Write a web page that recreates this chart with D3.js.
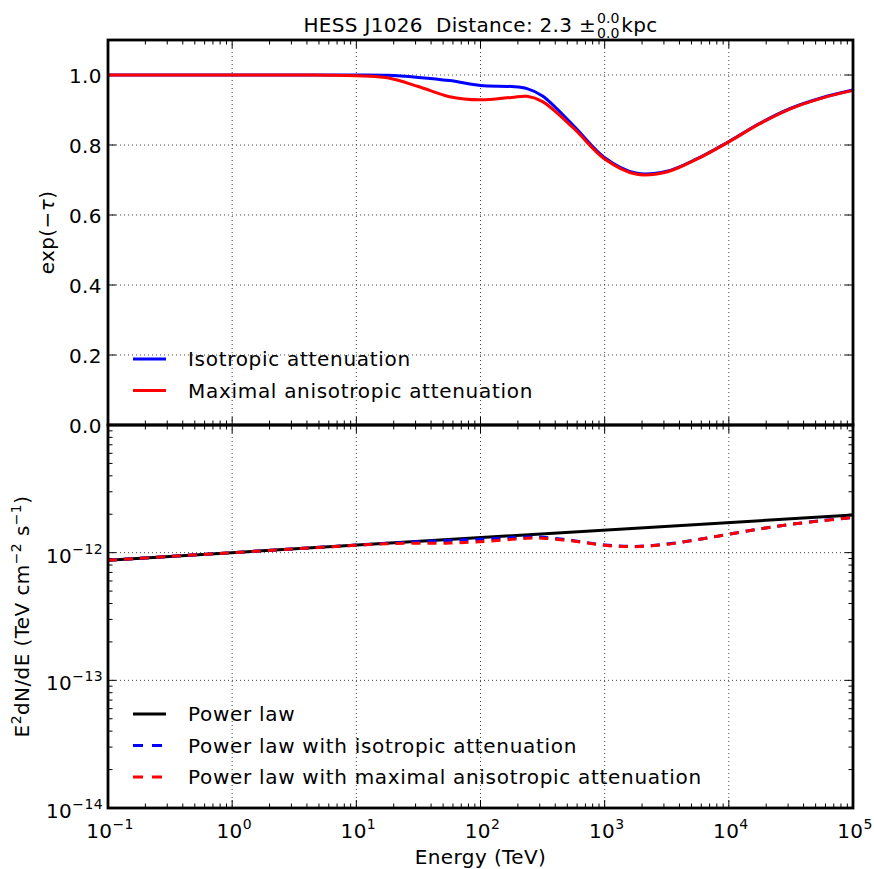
<!DOCTYPE html>
<html>
<head>
<meta charset="utf-8">
<script src="https://cdn.jsdelivr.net/npm/d3@7"></script>
<style>
body { margin: 0; background: #fff; }
text { font-family: "DejaVu Sans", sans-serif; fill: #000; }
</style>
</head>
<body>
<script>
var W = 874, H = 869;

// energy grid (TeV)
var energy = [0.1, 0.316, 1, 3.16, 5.62, 10, 17.8, 31.6, 56.2, 100, 178, 237, 316, 562,
              1000, 1778, 3162, 5623, 10000, 17783, 31623, 56234, 100000];

// exp(-tau)
var attIso   = [1, 1, 1, 1, 1, 1.0, 0.999, 0.993, 0.984, 0.970, 0.967, 0.961, 0.940, 0.855,
                0.764, 0.720, 0.725, 0.762, 0.810, 0.862, 0.905, 0.935, 0.957];
var attAniso = [1, 1, 1, 1, 0.9995, 0.998, 0.992, 0.967, 0.938, 0.929, 0.936, 0.939, 0.924, 0.848,
                0.760, 0.717, 0.723, 0.761, 0.809, 0.861, 0.904, 0.934, 0.956];

// E^2 dN/dE (TeV cm^-2 s^-1)
var plEnergy = [0.1, 100000];
var plFlux = [0.873e-12, 1.972e-12];
var fluxIso   = [0.873e-12, 0.934e-12, 1.0e-12, 1.070e-12, 1.107e-12, 1.146e-12, 1.184e-12, 1.217e-12,
                 1.248e-12, 1.273e-12, 1.313e-12, 1.327e-12, 1.320e-12, 1.242e-12, 1.148e-12, 1.120e-12,
                 1.167e-12, 1.268e-12, 1.395e-12, 1.535e-12, 1.668e-12, 1.782e-12, 1.887e-12];
var fluxAniso = [0.873e-12, 0.934e-12, 1.0e-12, 1.070e-12, 1.106e-12, 1.144e-12, 1.176e-12, 1.186e-12,
                 1.189e-12, 1.219e-12, 1.271e-12, 1.297e-12, 1.297e-12, 1.232e-12, 1.142e-12, 1.115e-12,
                 1.163e-12, 1.266e-12, 1.393e-12, 1.533e-12, 1.666e-12, 1.780e-12, 1.885e-12];

var xDecades = [-1, 0, 1, 2, 3, 4, 5];
var topTicks = [0, 0.2, 0.4, 0.6, 0.8, 1.0];
var botDecades = [-14, -13, -12, -11];

var left = 108, right = 853, top0 = 40, mid = 425, bottom = 808;

var svg = d3.select("body").append("svg").attr("width", W).attr("height", H);

var x = d3.scaleLog().domain([0.1, 1e5]).range([left, right]);
var yTop = d3.scaleLinear().domain([0, 1.1]).range([mid, top0]);
var yBot = d3.scaleLog().domain([1e-14, 1e-11]).range([bottom, mid]);

var xMajor = xDecades.map(function(k) { return Math.pow(10, k); });
var xMinor = [];
xDecades.slice(0, -1).forEach(function(k) {
    for (var m = 2; m < 10; m++) xMinor.push(m * Math.pow(10, k));
});
var yBotMajor = botDecades.map(function(k) { return Math.pow(10, k); });
var yBotMinor = [];
botDecades.slice(0, -1).forEach(function(k) {
    for (var m = 2; m < 10; m++) yBotMinor.push(m * Math.pow(10, k));
});

var MAJ = 8, MIN = 4.5;

// grid
function grid(yScale, yVals, y0, y1) {
    var g = svg.append("g").attr("stroke", "#444").attr("stroke-width", 1).attr("stroke-dasharray", "1,3");
    g.selectAll(".gx").data(xMajor).enter().append("line")
        .attr("x1", function(d) { return x(d); }).attr("x2", function(d) { return x(d); })
        .attr("y1", y0).attr("y2", y1);
    g.selectAll(".gy").data(yVals).enter().append("line")
        .attr("x1", left).attr("x2", right)
        .attr("y1", function(d) { return yScale(d); }).attr("y2", function(d) { return yScale(d); });
}
grid(yTop, topTicks, top0, mid);
grid(yBot, yBotMajor, mid, bottom);

// ticks
function ticks(yScale, yMaj, yMin, y0, y1) {
    var g = svg.append("g").attr("stroke", "#000").attr("stroke-width", 1);
    var xt = xMajor.map(function(d) { return {v: d, l: MAJ}; }).concat(xMinor.map(function(d) { return {v: d, l: MIN}; }));
    [y0, y1].forEach(function(yy, i) {
        var dir = i === 0 ? 1 : -1;
        g.selectAll(null).data(xt).enter().append("line")
            .attr("x1", function(d) { return x(d.v); }).attr("x2", function(d) { return x(d.v); })
            .attr("y1", yy).attr("y2", function(d) { return yy + dir * d.l; });
    });
    var yt = yMaj.map(function(d) { return {v: d, l: MAJ}; }).concat(yMin.map(function(d) { return {v: d, l: MIN}; }));
    [left, right].forEach(function(xx, i) {
        var dir = i === 0 ? 1 : -1;
        g.selectAll(null).data(yt).enter().append("line")
            .attr("y1", function(d) { return yScale(d.v); }).attr("y2", function(d) { return yScale(d.v); })
            .attr("x1", xx).attr("x2", function(d) { return xx + dir * d.l; });
    });
}
ticks(yTop, topTicks, [], top0, mid);
ticks(yBot, yBotMajor, yBotMinor, mid, bottom);

// curves
var smooth = d3.curveCatmullRom.alpha(0.5);
var lineTop = function(vals) {
    return d3.line().curve(smooth)
        .x(function(d, i) { return x(energy[i]); })
        .y(function(d) { return yTop(d); })(vals);
};
var lineBot = function(xs, vals) {
    return d3.line().curve(smooth)
        .x(function(d, i) { return x(xs[i]); })
        .y(function(d) { return yBot(d); })(vals);
};

svg.append("path").attr("d", lineTop(attIso)).attr("fill", "none").attr("stroke", "#0000ff").attr("stroke-width", 3);
svg.append("path").attr("d", lineTop(attAniso)).attr("fill", "none").attr("stroke", "#ff0000").attr("stroke-width", 3);

svg.append("path").attr("d", lineBot(plEnergy, plFlux)).attr("fill", "none").attr("stroke", "#000").attr("stroke-width", 3);
svg.append("path").attr("d", lineBot(energy, fluxIso)).attr("fill", "none").attr("stroke", "#0000ff")
    .attr("stroke-width", 3).attr("stroke-dasharray", "9,7");
svg.append("path").attr("d", lineBot(energy, fluxAniso)).attr("fill", "none").attr("stroke", "#ff0000")
    .attr("stroke-width", 3).attr("stroke-dasharray", "9,7");

// frames
[[top0, mid], [mid, bottom]].forEach(function(p) {
    svg.append("rect").attr("x", left).attr("y", p[0]).attr("width", right - left).attr("height", p[1] - p[0])
        .attr("fill", "none").attr("stroke", "#000").attr("stroke-width", 2.8);
});

// tick labels
function pow10Label(sel, k) {
    sel.append("tspan").text("10");
    sel.append("tspan").attr("dy", -9).attr("font-size", 14).text((k < 0 ? "\u2212" : "") + Math.abs(k));
}
svg.selectAll(".xl").data(xDecades).enter().append("text")
    .attr("x", function(k) { return x(Math.pow(10, k)) + 2; })
    .attr("y", 838).attr("font-size", 20).attr("letter-spacing", 0.4).attr("text-anchor", "middle")
    .each(function(k) { pow10Label(d3.select(this), k); });

svg.selectAll(".ytl").data(topTicks).enter().append("text")
    .attr("x", left - 6).attr("y", function(d) { return yTop(d) + 7.5; })
    .attr("font-size", 20).attr("letter-spacing", 0.4).attr("text-anchor", "end").text(d3.format(".1f"));

svg.selectAll(".ybl").data(botDecades.slice(0, -1)).enter().append("text")
    .attr("x", left - 5).attr("y", function(k) { return yBot(Math.pow(10, k)) + 10; })
    .attr("font-size", 20).attr("letter-spacing", 0.4).attr("text-anchor", "end")
    .each(function(k) { pow10Label(d3.select(this), k); });

// axis labels
svg.append("text").attr("x", (left + right) / 2).attr("y", 864).attr("font-size", 20)
    .attr("letter-spacing", 0.4).attr("text-anchor", "middle").text("Energy (TeV)");

var yl1 = svg.append("text").attr("transform", "translate(54," + ((top0 + mid) / 2) + ") rotate(-90)")
    .attr("font-size", 20).attr("letter-spacing", 0.4).attr("text-anchor", "middle");
yl1.append("tspan").text("exp(\u2212");
yl1.append("tspan").attr("font-style", "italic").text("\u03c4");
yl1.append("tspan").text(")");

var yl2 = svg.append("text").attr("transform", "translate(29," + ((mid + bottom) / 2) + ") rotate(-90)")
    .attr("font-size", 20).attr("letter-spacing", 0.4).attr("text-anchor", "middle");
yl2.append("tspan").text("E");
yl2.append("tspan").attr("dy", -8).attr("font-size", 14).text("2");
yl2.append("tspan").attr("dy", 8).text("dN/dE (TeV cm");
yl2.append("tspan").attr("dy", -8).attr("font-size", 14).text("\u22122");
yl2.append("tspan").attr("dy", 8).text(" s");
yl2.append("tspan").attr("dy", -8).attr("font-size", 14).text("\u22121");
yl2.append("tspan").attr("dy", 8).text(")");

// title
var tg = svg.append("g");
var t1 = tg.append("text").attr("y", 32).attr("font-size", 20).attr("letter-spacing", 0.3)
    .style("white-space", "pre").text("HESS J1026  Distance: 2.3 \u00b1");
var w1 = t1.node().getComputedTextLength();
var tsup = tg.append("text").attr("y", 23).attr("font-size", 14).text("0.0");
var tsub = tg.append("text").attr("y", 38).attr("font-size", 14).text("0.0");
var w2 = tsup.node().getComputedTextLength();
var t3 = tg.append("text").attr("y", 32).attr("font-size", 20).attr("letter-spacing", 0.3).text("kpc");
var w3 = t3.node().getComputedTextLength();
var x0 = (left + right) / 2 - (w1 + w2 + w3 + 3) / 2;
t1.attr("x", x0);
tsup.attr("x", x0 + w1 + 1);
tsub.attr("x", x0 + w1 + 1);
t3.attr("x", x0 + w1 + w2 + 3);

// legends
var legTop = [
    {label: "Isotropic attenuation", color: "#0000ff", dash: null},
    {label: "Maximal anisotropic attenuation", color: "#ff0000", dash: null}
];
var legBot = [
    {label: "Power law", color: "#000", dash: null},
    {label: "Power law with isotropic attenuation", color: "#0000ff", dash: "10,9"},
    {label: "Power law with maximal anisotropic attenuation", color: "#ff0000", dash: "10,9"}
];
function legend(items, y0) {
    var g = svg.selectAll(null).data(items).enter().append("g")
        .attr("transform", function(d, i) { return "translate(133," + (y0 + i * 31.5) + ")"; });
    g.append("line").attr("x1", 0).attr("x2", 33).attr("y1", 0).attr("y2", 0)
        .attr("stroke", function(d) { return d.color; }).attr("stroke-width", 3)
        .attr("stroke-dasharray", function(d) { return d.dash; });
    g.append("text").attr("x", 55).attr("y", 7).attr("font-size", 20).attr("letter-spacing", 0.7)
        .text(function(d) { return d.label; });
}
legend(legTop, 359);
legend(legBot, 714);
</script>
</body>
</html>
